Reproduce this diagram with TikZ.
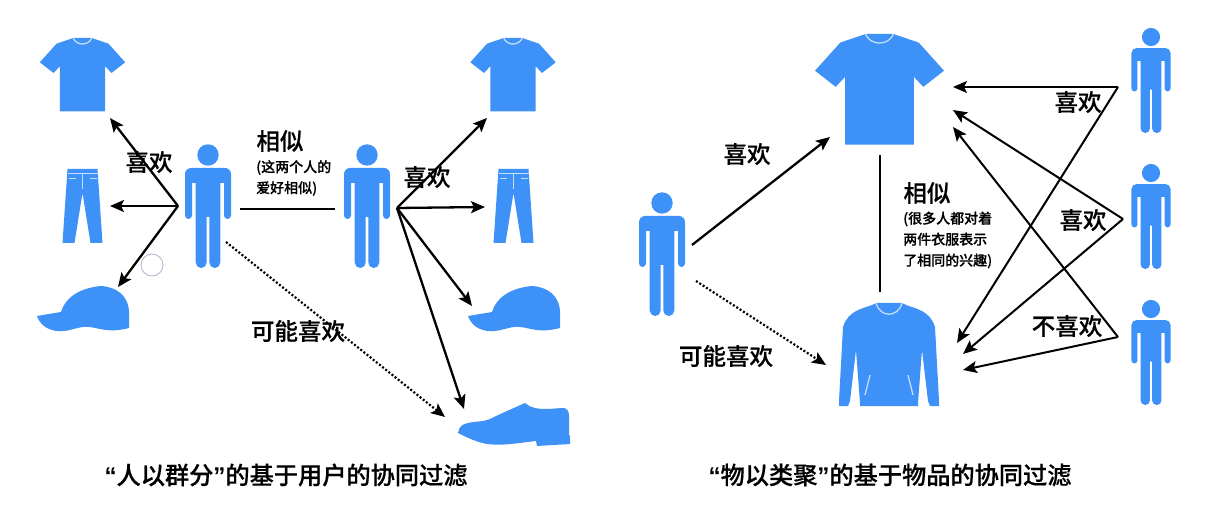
\documentclass[tikz,border=0pt]{standalone}
\usepackage{fontspec}
\setmainfont{Noto Sans CJK SC}[BoldFont={Noto Sans CJK SC Medium}, BoldFeatures={FakeBold=0.4}]
\newfontfamily\quotefont{Liberation Sans}[BoldFont={Liberation Sans Bold}]
\usetikzlibrary{arrows.meta}
\definecolor{itemblue}{HTML}{3D91F7}
\definecolor{cursorgrey}{HTML}{B4B0CC}
\newcommand{\openq}{{\quotefont “}}
\newcommand{\closeq}{{\quotefont ”}}
\tikzset{
  likearrow/.style={line width=2.3pt, -{Stealth[length=14pt,width=12pt,inset=3pt]}},
  maybearrow/.style={line width=2.2pt, dash pattern=on 2pt off 2pt, -{Stealth[length=14pt,width=12pt,inset=3pt]}},
  simline/.style={line width=2.1pt},
  biglabel/.style={font=\fontsize{23.5}{26}\selectfont\bfseries},
  smalllabel/.style={font=\fontsize{14}{21}\selectfont\bfseries, align=left, anchor=west, inner sep=0pt},
  titlelabel/.style={font=\fontsize{24.2}{26}\selectfont\bfseries},
  seam/.style={draw=white!70!itemblue, line width=1.3pt},
  person/.pic={
    \fill[itemblue] (0,0) circle (10.7);
    \fill[itemblue] (-23,19) arc[start angle=180, end angle=270, radius=6] -- (17,13) arc[start angle=270, end angle=360, radius=6] -- (23,60.5) arc[start angle=0, end angle=180, radius=3.5] -- (16,28) -- (12.3,28) -- (12.3,107.5) arc[start angle=0, end angle=180, radius=5.5] -- (1.3,62) -- (-1.3,62) -- (-1.3,107.5) arc[start angle=0, end angle=180, radius=5.5] -- (-12.3,28) -- (-16,28) -- (-16,60.5) arc[start angle=0, end angle=180, radius=3.5] -- cycle;
  },
  shirt/.pic={
    \fill[itemblue] (-9.3,0) -- (-26,5.7) -- (-42.7,24.3) -- (-29,35) -- (-22.7,28.3) -- (-22.7,73.3) -- (22.7,73.3) -- (22.7,28.3) -- (29,35) -- (42.7,24.3) -- (26,5.7) -- (9.3,0) -- cycle;
    \draw[seam] (-9.3,0) .. controls (-6,8) and (6,8) .. (9.3,0);
  },
  pants/.pic={
    \fill[itemblue] (-15,0) -- (15,0) -- (20,74) -- (8,74) -- (0,24) -- (-8,74) -- (-20,74) -- cycle;
    \draw[seam, line width=.5pt] (-15,4) -- (15,4) (0,4) -- (0,20) (-14,9) -- (-7,9) (14,9) -- (7,9);
  },
  cap/.pic={
    \fill[itemblue] (0,30) -- (24,26) .. controls (28,12) and (42,2) .. (64,0) .. controls (80,1) and (92,10) .. (92,27) -- (92,42) .. controls (84,44) and (76,45) .. (69,44) .. controls (60,43) and (54,40) .. (46,41) .. controls (38,42) and (32,45) .. (26,45) .. controls (16,46) and (4,42) .. cycle;
  },
  shoe/.pic={
    \fill[itemblue] (0,30) .. controls (1,24) and (4,21) .. (10,20) .. controls (18,18) and (26,19) .. (32,16) .. controls (44,10) and (56,5) .. (67,0) .. controls (72,5) and (80,6) .. (88,6) .. controls (94,6) and (100,5) .. (106,5) .. controls (110,6) and (111,9) .. (111,14) -- (111,32) -- (112,33) -- (112,41) -- (79,43) -- (78,38) .. controls (60,40) and (45,43) .. (29,41) .. controls (18,39) and (8,34) .. cycle;
  },
  sweater/.pic={
    \fill[itemblue] (-13,0) -- (-17,2) .. controls (-28,6) and (-41,8) .. (-46,24) -- (-50,98) -- (-50,103) -- (-41,103) -- (-39,98) -- (-33,47) -- (-29,100) -- (-29,103) -- (29,103) -- (29,100) -- (33,47) -- (39,98) -- (41,103) -- (50,103) -- (50,98) -- (46,24) .. controls (41,8) and (28,6) .. (17,2) -- (13,0) -- cycle;
    \draw[seam] (-13,0) .. controls (-9,15) and (9,15) .. (13,0);
    \draw[seam] (-19,72) -- (-24,92) (19,72) -- (24,92);
  }
}

\begin{document}
\begin{tikzpicture}[x=1pt, y=-1pt]
  \useasboundingbox (0,0) rectangle (1216,521);
  % left items and users
  \pic (shirtA) at (82.5,38) {shirt};
  \pic (pantsA) at (82.5,169) {pants};
  \pic (capA) at (37,286) {cap};
  \pic (userA) at (208,155) {person};
  \pic (userB) at (367,155) {person};
  \pic (shirtB) at (513,38) {shirt};
  \pic (pantsB) at (513.5,169) {pants};
  \pic (capB) at (468,286) {cap};
  \pic (shoeB) at (458,403) {shoe};
  % right items and users
  \pic (userC) at (662,203) {person};
  \pic[scale=1.51] (shirtC) at (879.5,34) {shirt};
  \pic (sweaterC) at (889,303) {sweater};
  \foreach \n/\y in {D/37, E/173, F/309}
    \pic[scale=.85] (user\n) at (1151,\y) {person};
  % connector ends
  \coordinate (hubA) at (178,206);
  \coordinate (hubB) at (397,208);
  \coordinate (toShirtA) at (110,118);
  \coordinate (toPantsA) at (110,206);
  \coordinate (toCapA) at (118,287);
  \coordinate (simA) at (240,209);
  \coordinate (simB) at (335,209);
  \coordinate (maybeA) at (226,242);
  \coordinate (toShoeDot) at (445,417);
  \coordinate (toShirtB) at (487,118);
  \coordinate (toPantsB) at (485,207);
  \coordinate (toCapB) at (472,306);
  \coordinate (toShoeB) at (464,409);
  \coordinate (startC) at (692,245);
  \coordinate (toShirtC) at (830,137);
  \coordinate (maybeC) at (696,281);
  \coordinate (toSweaterDot) at (826,365);
  \coordinate (simC) at (880,155);
  \coordinate (simD) at (880,292);
  \coordinate (hubD) at (1118,87);
  \coordinate (hubE) at (1123,219);
  \coordinate (hubF) at (1118,337);
  \coordinate (shirtD) at (953,87);
  \coordinate (shirtE) at (953,110);
  \coordinate (shirtF) at (953,127);
  \coordinate (sweaterD) at (957,343);
  \coordinate (sweaterE) at (963,354);
  \coordinate (sweaterF) at (963,370);
  % connectors
  \foreach \a/\b in {hubA/toShirtA, hubA/toPantsA, hubA/toCapA, hubB/toShirtB, hubB/toPantsB, hubB/toCapB, hubB/toShoeB, startC/toShirtC}
    \draw[likearrow] (\a) -- (\b);
  \foreach \a/\b in {hubD/shirtD, hubD/sweaterD, hubE/shirtE, hubE/sweaterE, hubF/shirtF, hubF/sweaterF}
    \draw[likearrow, line width=2pt] (\a) -- (\b);
  \foreach \a/\b in {maybeA/toShoeDot, maybeC/toSweaterDot}
    \draw[maybearrow] (\a) -- (\b);
  \draw[simline] (simA) -- (simB);
  \draw[simline] (simC) -- (simD);
  % cursor mark
  \node[circle, draw=cursorgrey, line width=.8pt, minimum size=22pt, inner sep=0pt] (cursor) at (152,265) {};
  % labels
  \node[biglabel] (likeA) at (149,162) {喜欢};
  \node[biglabel] (similarA) at (280,141) {相似};
  \node[smalllabel] (noteA) at (256,178) {(这两个人的\\爱好相似)};
  \node[biglabel] (likeB) at (427,177) {喜欢};
  \node[biglabel] (maybeLabelA) at (298,331) {可能喜欢};
  \node[biglabel] (likeC) at (747,154) {喜欢};
  \node[biglabel] (similarC) at (927,193) {相似};
  \node[smalllabel] (noteC) at (903,240) {(很多人都对着\\两件衣服表示\\了相同的兴趣)};
  \node[biglabel] (maybeLabelC) at (726,356) {可能喜欢};
  \node[biglabel] (likeD) at (1078,102) {喜欢};
  \node[biglabel] (likeE) at (1083,220) {喜欢};
  \node[biglabel] (dislikeF) at (1067,326) {不喜欢};
  \node[titlelabel] (titleA) at (286,475) {\openq 人以群分\closeq 的基于用户的协同过滤};
  \node[titlelabel] (titleC) at (890,475) {\openq 物以类聚\closeq 的基于物品的协同过滤};
\end{tikzpicture}
\end{document}
